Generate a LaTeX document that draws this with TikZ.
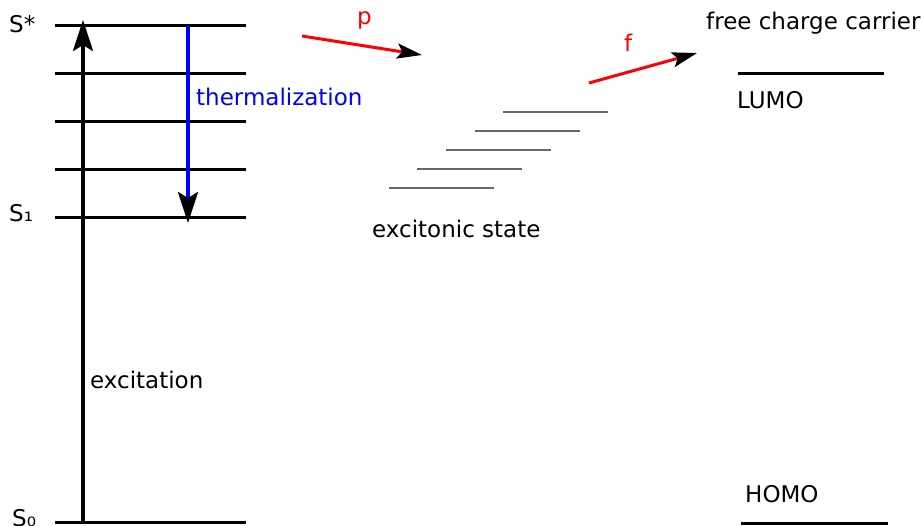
\documentclass[tikz,border=0pt]{standalone}
\usepackage{fontspec}
\setmainfont{DejaVu Sans}
\usetikzlibrary{arrows.meta}
\begin{document}
\begin{tikzpicture}[x=1pt,y=-1pt,
  level/.style={line width=3pt,black},
  exlevel/.style={line width=1.3pt,black!60},
  lbl/.style={inner sep=0pt,anchor=base west,font=\fontsize{23}{27}\selectfont},
  bighead/.style={-{Stealth[length=31pt,width=20pt,inset=6pt,black]}},
  smallhead/.style={-{Stealth[length=25pt,width=15pt,inset=5pt,black]}}]
\useasboundingbox (0,0) rectangle (921,526);
% energy levels
\foreach \y/\n in {26/a,74/b,122/c,170/d,218/e,522/f}{
  \coordinate (L\n1) at (55,\y); \coordinate (L\n2) at (246,\y);
  \draw[level] (L\n1) -- (L\n2);
}
% excitonic levels
\foreach \x/\y/\n in {389/188/1,417/169/2,446/150/3,475/131/4,503/112/5}{
  \coordinate (X\n a) at (\x,\y); \coordinate (X\n b) at (\x+105,\y);
  \draw[exlevel] (X\n a) -- (X\n b);
}
% LUMO / HOMO
\coordinate (lumoA) at (738,74); \coordinate (lumoB) at (884,74);
\coordinate (homoA) at (741,523); \coordinate (homoB) at (888,523);
\draw[level] (lumoA) -- (lumoB);
\draw[level] (homoA) -- (homoB);
% arrows
\coordinate (exS) at (83,522); \coordinate (exE) at (83,20);
\draw[line width=3.5pt,bighead] (exS) -- (exE);
\coordinate (thS) at (188,26); \coordinate (thE) at (188,223);
\draw[line width=3.5pt,blue,bighead] (thS) -- (thE);
\coordinate (pS) at (302,36); \coordinate (pE) at (422,55);
\draw[line width=3pt,red,smallhead] (pS) -- (pE);
\coordinate (fS) at (589,83); \coordinate (fE) at (697,53);
\draw[line width=3pt,red,smallhead] (fS) -- (fE);
% labels
\node[lbl] (sstar) at (9,33) {S*};
\node[lbl] (s1) at (9,222) {S₁};
\node[lbl] (s0) at (12,526) {S₀};
\node[lbl,text=blue] (therm) at (196,106) {thermalization};
\node[lbl] (excit) at (90,389) {excitation};
\node[lbl] (exst) at (372,238) {excitonic state};
\node[lbl,text=red] (plbl) at (357,25) {p};
\node[lbl,text=red] (flbl) at (624,52) {f};
\node[lbl] (fcc) at (706,30) {free charge carrier};
\node[lbl] (lumo) at (737,109) {LUMO};
\node[lbl] (homo) at (745,502) {HOMO};
\end{tikzpicture}
\end{document}
